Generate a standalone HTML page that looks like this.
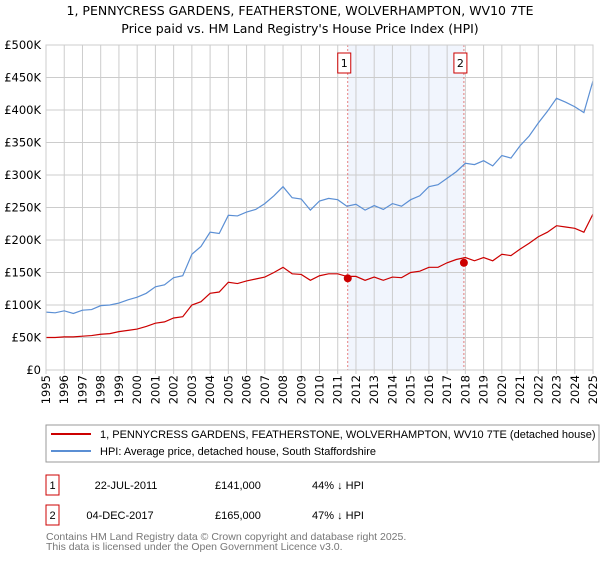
<!DOCTYPE html>
<html><head><meta charset="utf-8"><style>
body{margin:0;background:#fff;font-family:"Liberation Sans","DejaVu Sans",sans-serif;}
svg text{font-family:"DejaVu Sans","Liberation Sans",sans-serif;}
svg text.lib{font-family:"Liberation Sans","DejaVu Sans",sans-serif;}
</style></head><body>
<svg id="c" width="600" height="560" xmlns="http://www.w3.org/2000/svg">
<text x="300" y="15" text-anchor="middle" font-size="12.5">1, PENNYCRESS GARDENS, FEATHERSTONE, WOLVERHAMPTON, WV10 7TE</text>
<text x="300" y="33" text-anchor="middle" font-size="12.5">Price paid vs. HM Land Registry's House Price Index (HPI)</text>
<g id="plot"></g>
<rect x="46" y="425" width="553" height="37" fill="#fff" stroke="#999"/>
<line x1="51" y1="434" x2="91" y2="434" stroke="#cc0000" stroke-width="2"/>
<text class="lib" x="100" y="438" font-size="11">1, PENNYCRESS GARDENS, FEATHERSTONE, WOLVERHAMPTON, WV10 7TE (detached house)</text>
<line x1="51" y1="451" x2="91" y2="451" stroke="#5b8fd4" stroke-width="2"/>
<text class="lib" x="100" y="455" font-size="11">HPI: Average price, detached house, South Staffordshire</text>
<g>
<rect x="46" y="475" width="13" height="20" fill="#fff" stroke="#cc0000"/>
<text class="lib" x="52.5" y="489" text-anchor="middle" font-size="11">1</text>
<text class="lib" x="126" y="489" text-anchor="middle" font-size="11">22-JUL-2011</text>
<text class="lib" x="215" y="489" font-size="11">£141,000</text>
<text class="lib" x="312" y="489" font-size="11">44% ↓ HPI</text></g>
<g>
<rect x="46" y="505" width="13" height="20" fill="#fff" stroke="#cc0000"/>
<text class="lib" x="52.5" y="519" text-anchor="middle" font-size="11">2</text>
<text class="lib" x="120" y="519" text-anchor="middle" font-size="11">04-DEC-2017</text>
<text class="lib" x="215" y="519" font-size="11">£165,000</text>
<text class="lib" x="312" y="519" font-size="11">47% ↓ HPI</text></g>
<text class="lib" x="46" y="540" font-size="10.5" fill="#777">Contains HM Land Registry data © Crown copyright and database right 2025.</text>
<text class="lib" x="46" y="550" font-size="10.5" fill="#777">This data is licensed under the Open Government Licence v3.0.</text>
</svg>
<script>
const years=[1995,1995.5,1996,1996.5,1997,1997.5,1998,1998.5,1999,1999.5,2000,2000.5,2001,2001.5,2002,2002.5,2003,2003.5,2004,2004.5,2005,2005.5,2006,2006.5,2007,2007.5,2008,2008.5,2009,2009.5,2010,2010.5,2011,2011.5,2012,2012.5,2013,2013.5,2014,2014.5,2015,2015.5,2016,2016.5,2017,2017.5,2018,2018.5,2019,2019.5,2020,2020.5,2021,2021.5,2022,2022.5,2023,2023.5,2024,2024.5,2025];
const hpi=[89,88,91,87,92,93,99,100,103,108,112,118,128,131,142,145,178,190,212,210,238,237,243,247,256,268,282,265,263,246,260,264,262,252,255,246,253,247,256,252,262,268,282,285,295,305,318,316,322,314,330,326,345,360,380,398,418,412,405,396,445];
const price=[50,50,51,51,52,53,55,56,59,61,63,67,72,74,80,82,100,105,118,120,135,133,137,140,143,150,158,148,147,138,145,148,148,144,144,138,143,138,143,142,150,152,158,158,165,170,173,168,173,168,178,176,186,195,205,212,222,220,218,212,240];
const sales=[{t:2011.55,v:141,label:"1"},{t:2017.92,v:165,label:"2"}];
const yTicks=[0,50,100,150,200,250,300,350,400,450,500];
const xTicks=[];for(let y=1995;y<=2025;y++)xTicks.push(y);
const NS="http://www.w3.org/2000/svg";
const X0=46,X1=593,Y0=370,Y1=45;
const xs=t=>X0+(t-1995)/30*(X1-X0);
const ys=v=>Y0-v/500*(Y0-Y1);
const g=document.getElementById('plot');
function mk(tag,a){const e=document.createElementNS(NS,tag);for(const k in a)e.setAttribute(k,a[k]);g.appendChild(e);return e;}
let band=mk('rect',{x:xs(sales[0].t),y:Y1,width:xs(sales[1].t)-xs(sales[0].t),height:Y0-Y1,fill:'#eef3fc',opacity:0.8});


yTicks.forEach(v=>{
 const l=mk('line',{x1:X0,x2:X1,y1:ys(v),y2:ys(v),stroke:'#ccc'});
 
 
 const t=mk('text',{x:X0-5,y:ys(v)+4,'text-anchor':'end','font-size':11.5});
 t.textContent=v===0?'£0':'£'+v+'K';
 
 
});
xTicks.forEach(yr=>{
 const l=mk('line',{x1:xs(yr),x2:xs(yr),y1:Y1,y2:Y0+4,stroke:'#ccc'});
 
 
 const t=mk('text',{x:0,y:0,'text-anchor':'end','font-size':11.5,transform:`translate(${xs(yr)+4},${Y0+5}) rotate(-90)`});
 t.textContent=yr;
 
 
});
sales.forEach(s=>{
 const l=mk('line',{x1:xs(s.t),x2:xs(s.t),y1:Y1,y2:Y0,stroke:'#e06060','stroke-dasharray':'2,2','stroke-width':0.8});
 
 
 const r=mk('rect',{x:xs(s.t)-10,y:53,width:13,height:20,fill:'#fff',stroke:'#cc0000'});
 
 
 const t=mk('text',{x:xs(s.t)-3.5,y:67,'text-anchor':'middle','font-size':11});
 t.textContent=s.label;
 
 
});
const ph=mk('polyline',{points:years.map((t,i)=>xs(t)+','+ys(hpi[i])).join(' '),fill:'none',stroke:'#5b8fd4','stroke-width':1.2});


const pp=mk('polyline',{points:years.map((t,i)=>xs(t)+','+ys(price[i])).join(' '),fill:'none',stroke:'#cc0000','stroke-width':1.2});


sales.forEach(s=>{
 const c=mk('circle',{cx:xs(s.t),cy:ys(s.v),r:4,fill:'#cc0000'});
 
 
});
const ax=mk('rect',{x:X0,y:Y1,width:X1-X0,height:Y0-Y1,fill:'none',stroke:'#ccc'});


</script>
</body></html>
